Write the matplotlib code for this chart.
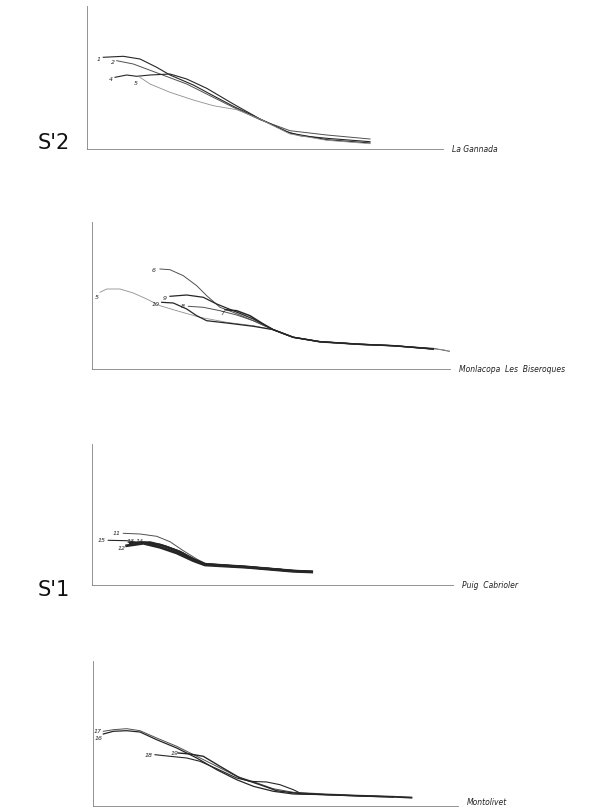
import matplotlib
matplotlib.use("Agg")
import matplotlib.pyplot as plt

FIG_W, FIG_H = 607, 812

# ---------------- data (units: local chart units, x = distance, y = relative height) -------------
# Panel 1 : La Gannada
p1_c1_x = [16.3, 36.3, 53, 69.7, 83, 106.3, 123, 146.3, 173, 199.7, 213, 239.7, 283]
p1_c1_y = [91.7, 92.7, 90, 81.7, 74, 64, 55, 42.7, 30, 17.3, 13.3, 10.7, 7.3]
p1_c2_x = [29.7, 46.3, 73, 99.7, 123, 146.3, 173, 203, 239.7, 283]
p1_c2_y = [88.3, 85, 75, 65, 53.3, 41.7, 29.3, 18.3, 14, 10]
p1_c4_x = [28, 39.7, 49.7, 63, 83, 99.7, 119.7, 146.3, 173, 203, 239.7, 283]
p1_c4_y = [71.7, 74, 72.7, 74, 75, 70, 60.7, 45, 30, 16, 9.3, 6]
p1_c5_x = [53, 63, 83, 106.3, 126.3, 149.7, 173, 203, 239.7, 283]
p1_c5_y = [71.7, 65, 56.7, 49, 43.3, 39.3, 30, 15, 8.7, 5.3]
p1_labels = ["1", "2", "4", "5"]
p1_label_x = [11.3, 25.7, 23.7, 49]
p1_label_y = [90.7, 88, 70.7, 66.7]

# Panel 2 : Monlacopa Les Biseroques
p2_c6_x = [68, 78, 91.3, 104.7, 114.7, 128, 141.3, 161.3, 181.3, 201.3, 228, 268, 301.3, 341.3, 359.7]
p2_c6_y = [100, 99.3, 93.3, 83.3, 73.3, 61.7, 56.7, 48.3, 39.3, 31.7, 27.3, 25, 23.3, 20.7, 17.3]
p2_c5_x = [8, 14.7, 28, 41.3, 54.7, 68, 84.7, 108, 134.7, 161.3, 181.3, 201.3, 228, 268, 308, 351.3, 361.3]
p2_c5_y = [76.7, 80, 80, 76, 70, 63.3, 58.3, 51.7, 46.7, 43.3, 39.3, 31.7, 26.7, 24.3, 22.7, 19.3, 16.7]
p2_c9_x = [78, 94.7, 111.3, 124.7, 141.3, 161.3, 181.3, 201.3, 228, 268, 301.3, 341.3]
p2_c9_y = [72.7, 74, 71.7, 65, 58.3, 50, 39.3, 31.7, 27.3, 24.7, 23.3, 20]
p2_c10_x = [69.7, 81.3, 94.7, 104.7, 114.7, 134.7, 161.3, 181.3, 201.3, 228, 268, 301.3, 341.3]
p2_c10_y = [66.7, 66, 60, 53.3, 48.3, 46, 42.7, 39.3, 31.7, 27.3, 24.7, 23.3, 20]
p2_c8_x = [96.3, 111.3, 128, 144.7, 161.3, 181.3, 201.3, 228, 268, 301.3, 341.3]
p2_c8_y = [62.7, 61.7, 58.3, 54, 48.3, 39.3, 31.7, 27.3, 24.7, 23.3, 20]
p2_c7_x = [133, 144.7, 158, 171.3, 181.3, 201.3, 228, 268, 301.3, 341.3]
p2_c7_y = [59.3, 58.3, 53.3, 45, 39.3, 31.7, 27.3, 24.7, 23.3, 20]
p2_labels = ["6", "5", "9", "10", "8", "7"]
p2_label_x = [61.3, 5.3, 73, 64, 90.7, 130.7]
p2_label_y = [99, 72.7, 71.7, 66, 63.3, 56.7]

# Panel 3 : Puig Cabrioler
p3_c11_x = [31.3, 48, 64.7, 78, 91.3, 104.7, 113, 128, 154.7, 188, 201.3, 219.7]
p3_c11_y = [51.7, 51, 48.7, 43.3, 34.3, 26, 21.7, 20.3, 18.3, 16, 13.7, 13.3]
p3_c12_x = [34.7, 51.3, 68, 84.7, 101.3, 113, 154.7, 201.3, 219.7]
p3_c12_y = [39.3, 41.7, 37.7, 32, 24.3, 20, 17.7, 13.7, 13]
p3_c13_x = [38, 51.3, 68, 84.7, 101.3, 113, 154.7, 201.3, 219.7]
p3_c13_y = [42, 42.7, 40.3, 34.3, 26, 21, 18.3, 14.3, 13.3]
p3_c14_x = [46.3, 58, 71.3, 88, 101.3, 113, 154.7, 201.3, 219.7]
p3_c14_y = [42, 42.7, 39.3, 33.3, 25.7, 20.7, 18, 14, 13.3]
p3_c15_x = [16.3, 34.7, 44.7, 58, 74.7, 91.3, 104.7, 113, 154.7, 201.3, 219.7]
p3_c15_y = [44.7, 44.3, 42.7, 42, 38.7, 32, 24.3, 20.3, 17.3, 13.7, 13]
p3_labels = ["11", "15", "13", "14", "12"]
p3_label_x = [24.7, 9.7, 39, 48, 29.7]
p3_label_y = [52.7, 45, 44.3, 44.3, 37]

# Panel 4 : Montolivet
p4_c17_x = [10.3, 20.3, 33.7, 47, 63.7, 83.7, 103.7, 123.7, 143.7, 160.3, 180.3, 200.3, 233.7, 267, 300.3, 318.7]
p4_c17_y = [74.7, 76.3, 77.3, 75.3, 68, 59.7, 49.7, 39.7, 29.7, 24.3, 17.3, 13.7, 12, 10.7, 9.7, 8.7]
p4_c16_x = [10.3, 20.3, 33.7, 47, 63.7, 83.7, 103.7, 123.7, 143.7, 160.3, 180.3, 200.3, 233.7, 267, 300.3, 318.7]
p4_c16_y = [72, 74.7, 75.3, 74, 66.3, 58, 48, 36.3, 26.3, 19.7, 14.7, 12, 11.3, 10, 9, 8]
p4_c18_x = [62, 77, 93.7, 107, 123.7, 143.7, 157, 173.7, 187, 200.3, 207, 233.7, 267, 300.3, 318.7]
p4_c18_y = [51.3, 49.7, 48, 44.7, 37.3, 28, 24.7, 24, 21.3, 16.3, 13, 11.3, 10.3, 9.3, 8.7]
p4_c19_x = [85.3, 97, 110.3, 127, 147, 167, 183.7, 207, 233.7, 267, 300.3]
p4_c19_y = [53, 52, 49.7, 39.7, 28, 21.3, 15.3, 12.3, 11.3, 10, 9]
p4_labels = ["17", "16", "18", "19"]
p4_label_x = [4.3, 5.3, 55.3, 81.3]
p4_label_y = [75.3, 68, 51.3, 53]

site_names = ["La Gannada", "Monlacopa  Les  Biseroques", "Puig  Cabrioler", "Montolivet"]
group_labels = ["S'2", "S'1"]

# ---------------- layout (pixels) ----------------
# (origin x, origin y, axis width, axis height)
panels = [
    (87, 150, 356, 143),
    (92, 370, 358, 147),
    (92, 586, 361, 141),
    (93, 807, 365, 145),
]

fig = plt.figure(figsize=(FIG_W / 100, FIG_H / 100), dpi=100)
fig.patch.set_facecolor("white")

DARK = "#262626"
MID = "#505050"
LIGHT = "#8f8f8f"
AXC = "#808080"

axes = []
for (ox, oy, w, h) in panels:
    ax = fig.add_axes([ox / FIG_W, (FIG_H - oy) / FIG_H, w / FIG_W, h / FIG_H])
    ax.set_xlim(0, w)
    ax.set_ylim(0, h)
    for s in ["top", "right"]:
        ax.spines[s].set_visible(False)
    for s in ["left", "bottom"]:
        ax.spines[s].set_color(AXC)
        ax.spines[s].set_linewidth(0.6)
    ax.set_xticks([])
    ax.set_yticks([])
    ax.patch.set_alpha(0)
    axes.append(ax)

hand = dict(family="DejaVu Sans", style="italic", color="#222222")

def label_pts(ax, labels, xs, ys, size=4.5):
    for t, x, y in zip(labels, xs, ys):
        ax.text(x, y, t, fontsize=size, ha="center", va="center", **hand)

def site(ax, name, w, dy=0):
    ax.text(w + 9, dy, name, fontsize=5.5, ha="left", va="center", clip_on=False, **hand)

# Panel 1
ax = axes[0]
ax.plot(p1_c1_x, p1_c1_y, color=DARK, lw=0.8)
ax.plot(p1_c2_x, p1_c2_y, color=MID, lw=0.7)
ax.plot(p1_c4_x, p1_c4_y, color=DARK, lw=0.8)
ax.plot(p1_c5_x, p1_c5_y, color=LIGHT, lw=0.6)
label_pts(ax, p1_labels, p1_label_x, p1_label_y)
site(ax, site_names[0], panels[0][2], 0)

# Panel 2
ax = axes[1]
ax.plot(p2_c6_x, p2_c6_y, color=MID, lw=0.7)
ax.plot(p2_c5_x, p2_c5_y, color=LIGHT, lw=0.6)
ax.plot(p2_c9_x, p2_c9_y, color=DARK, lw=0.9)
ax.plot(p2_c10_x, p2_c10_y, color=DARK, lw=0.9)
ax.plot(p2_c8_x, p2_c8_y, color=MID, lw=0.7)
ax.plot(p2_c7_x, p2_c7_y, color=DARK, lw=1.1)
label_pts(ax, p2_labels, p2_label_x, p2_label_y)
site(ax, site_names[1], panels[1][2], 0)

# Panel 3
ax = axes[2]
ax.plot(p3_c11_x, p3_c11_y, color=MID, lw=0.7)
ax.plot(p3_c12_x, p3_c12_y, color=DARK, lw=2.0)
ax.plot(p3_c13_x, p3_c13_y, color=DARK, lw=1.6)
ax.plot(p3_c14_x, p3_c14_y, color=DARK, lw=1.6)
ax.plot(p3_c15_x, p3_c15_y, color=DARK, lw=0.8)
label_pts(ax, p3_labels, p3_label_x, p3_label_y)
site(ax, site_names[2], panels[2][2], 0)

# Panel 4
ax = axes[3]
ax.plot(p4_c17_x, p4_c17_y, color=MID, lw=0.7)
ax.plot(p4_c16_x, p4_c16_y, color=DARK, lw=0.9)
ax.plot(p4_c18_x, p4_c18_y, color=DARK, lw=0.8)
ax.plot(p4_c19_x, p4_c19_y, color=DARK, lw=1.0)
label_pts(ax, p4_labels, p4_label_x, p4_label_y)
site(ax, site_names[3], panels[3][2], 4)

# Group labels
fig.text(38 / FIG_W, 1 - 143 / FIG_H, group_labels[0], fontsize=15, ha="left", va="center",
         family="DejaVu Sans", color="#111111")
fig.text(38 / FIG_W, 1 - 590 / FIG_H, group_labels[1], fontsize=15, ha="left", va="center",
         family="DejaVu Sans", color="#111111")

fig.savefig("out.png", dpi=100, facecolor="white")
